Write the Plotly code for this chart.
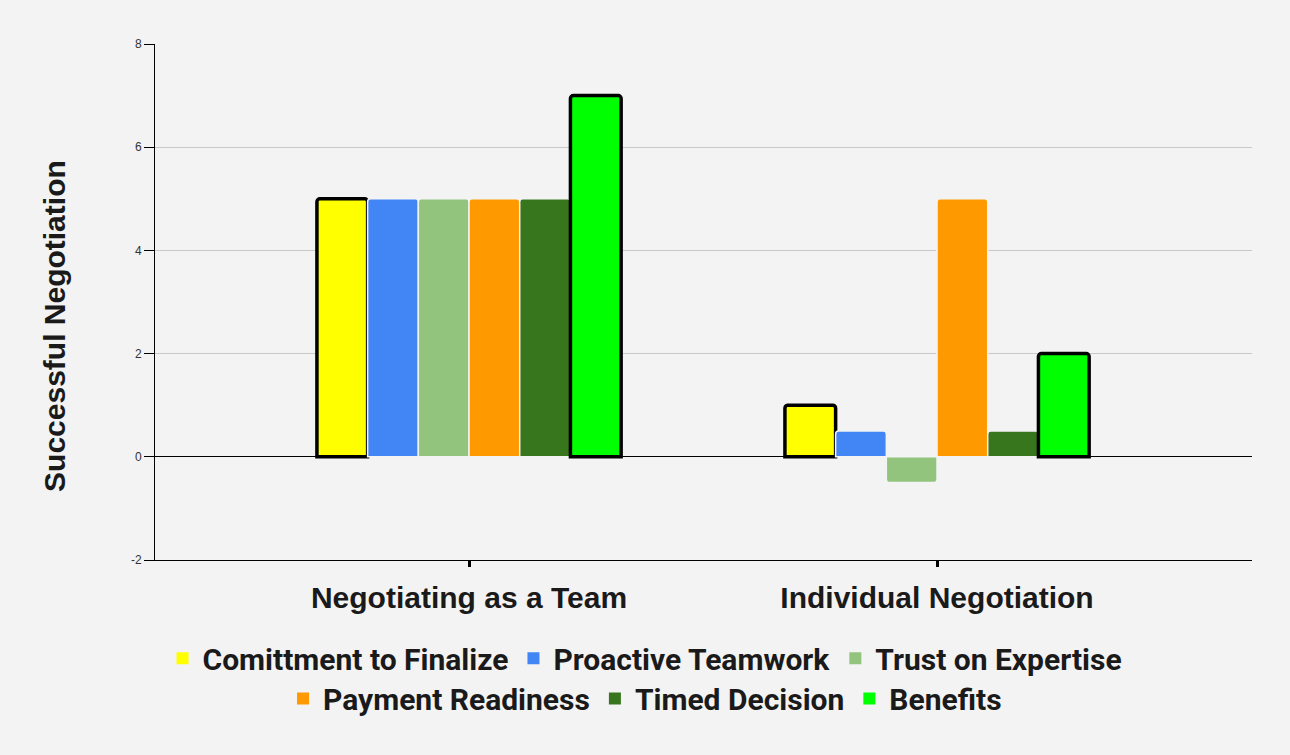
import plotly.graph_objects as go

categories = ["Negotiating as a Team", "Individual Negotiation"]
series_names = ["Comittment to Finalize", "Proactive Teamwork", "Trust on Expertise",
                "Payment Readiness", "Timed Decision", "Benefits"]
series_values = [
    [5, 1],
    [5, 0.5],
    [5, -0.5],
    [5, 5],
    [5, 0.5],
    [7, 2],
]
colors = ["#ffff00", "#4285f4", "#93c47d", "#ff9900", "#38761d", "#00ff00"]
outlined = [True, False, False, False, False, True]
legend_rows = ["legend", "legend", "legend", "legend2", "legend2", "legend2"]
y_ticks = [-2, 0, 2, 4, 6, 8]

fig = go.Figure()
for name, vals, col, ol in zip(series_names, series_values, colors, outlined):
    fig.add_trace(go.Bar(
        x=categories, y=vals, name=name, showlegend=False,
        marker=dict(color=col,
                    line=dict(color="black" if ol else "#f3f3f3", width=3.5 if ol else 1.5)),
    ))
# legend entries (plain squares, no outline)
for name, col, lg in zip(series_names, colors, legend_rows):
    fig.add_trace(go.Scatter(
        x=[None], y=[None], mode="markers", name=name, legend=lg,
        marker=dict(symbol="square", size=12, color=col),
    ))

legend_font = dict(family="Roboto", size=30, color="#1a1a1a", weight=700)
fig.update_layout(
    width=1290, height=755,
    paper_bgcolor="#f3f3f3", plot_bgcolor="#f3f3f3",
    margin=dict(l=155, r=38, t=44, b=195),
    barmode="group", bargap=0.35, bargroupgap=0.0,
    barcornerradius=3,
    showlegend=True,
    legend=dict(orientation="h", x=0.4467, xanchor="center", y=-0.140, yanchor="top",
                font=legend_font, itemwidth=30, bgcolor="rgba(0,0,0,0)"),
    legend2=dict(orientation="h", x=0.4467, xanchor="center", y=-0.218, yanchor="top",
                 font=legend_font, itemwidth=30, bgcolor="rgba(0,0,0,0)"),
    font=dict(family="Liberation Sans, Arial", color="#222"),
    annotations=[dict(
        text="<b>Successful Negotiation</b>", textangle=-90,
        xref="paper", yref="paper", x=-0.0912, y=0.4535,
        xanchor="center", yanchor="middle", showarrow=False,
        font=dict(family="Liberation Sans, Arial", size=30, color="#1a1a1a"),
    )],
)
fig.update_xaxes(
    range=[-0.671, 1.673], showline=True, linecolor="black", linewidth=1,
    ticks="outside", ticklen=6, tickwidth=3, tickcolor="black",
    tickfont=dict(family="Liberation Sans, Arial", size=30, color="#1a1a1a"),
    tickprefix="<b>", ticksuffix="</b>", showgrid=False, ticklabelstandoff=5,
)
fig.update_yaxes(
    range=[-2, 8], tickvals=y_ticks, ticktext=[str(t) for t in y_ticks],
    showline=True, linecolor="black", linewidth=1,
    ticks="outside", ticklen=10, tickcolor="black",
    tickfont=dict(family="Liberation Sans, Arial", size=12, color="#333"),
    showgrid=True, gridcolor="#c8c8c8", gridwidth=1,
    zeroline=True, zerolinecolor="black", zerolinewidth=1,
)
fig.write_html("out.html")
